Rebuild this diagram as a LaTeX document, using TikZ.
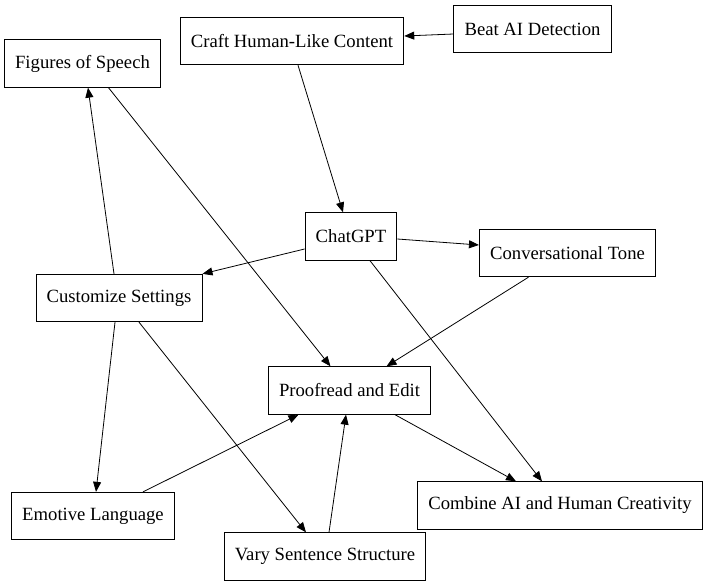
\documentclass[tikz,border=0pt]{standalone}
\usepackage{fontspec}
\setmainfont{Liberation Serif}
\usetikzlibrary{arrows.meta,calc}

\begin{document}
\begin{tikzpicture}[
  x=0.75pt, y=-0.75pt,
  every node/.style={font=\fontsize{14}{16}\selectfont},
  gvbox/.style={draw=black, line width=0.75pt, rectangle, inner xsep=8pt,
                minimum height=35.5pt, align=center},
  arr/.style={-{Triangle[length=7.5pt,width=6pt]}, line width=0.6pt}
]
\useasboundingbox (0,0) rectangle (708,587);

% nodes, placed at pixel centres
\node[gvbox] (beat)  at (532.5,29)  {Beat AI Detection};
\node[gvbox] (craft) at (292,41)    {Craft Human-Like Content};
\node[gvbox] (fig)   at (82.5,63.5) {Figures of Speech};
\node[gvbox] (chat)  at (351,236.5) {ChatGPT};
\node[gvbox] (conv)  at (567.5,253) {Conversational Tone};
\node[gvbox] (cust)  at (119,298)   {Customize Settings};
\node[gvbox] (proof) at (349.5,390.5) {Proofread and Edit};
\node[gvbox] (emot)  at (93,516)    {Emotive Language};
\node[gvbox] (comb)  at (560,505.5) {Combine AI and Human Creativity};
\node[gvbox] (vary)  at (325,556.5) {Vary Sentence Structure};

% edges
\draw[arr] ($(beat.west)+(0,5)$) -- ($(craft.east)+(0,-5)$);
\draw[arr] ($(craft.south)+(6,0)$) -- ($(chat.north)+(-8,0)$);
\draw[arr] ($(chat.east)+(0,2.5)$) -- ($(conv.west)+(0,-8)$);
\draw[arr] ($(chat.west)+(0,12.5)$) -- (cust.north east);
\draw[arr] ($(chat.south)+(19,0)$) -- ($(comb.north)+(-18,0)$);
\draw[arr] ($(conv.south)+(-39,0)$) -- ($(proof.north)+(37,0)$);
\draw[arr] ($(fig.south)+(26,0)$) -- ($(proof.north)+(-19,0)$);
\draw[arr] ($(cust.north)+(-5,0)$) -- ($(fig.south)+(5.5,0)$);
\draw[arr] ($(cust.south)+(-4,0)$) -- ($(emot.north)+(3,0)$);
\draw[arr] ($(cust.south)+(20,0)$) -- ($(vary.north)+(-19,0)$);
\draw[arr] ($(emot.north)+(50,0)$) -- ($(proof.south)+(-51,0)$);
\draw[arr] ($(vary.north)+(4,0)$) -- ($(proof.south)+(-3.5,0)$);
\draw[arr] ($(proof.south)+(45.5,0)$) -- ($(comb.north)+(-44,0)$);
\end{tikzpicture}
\end{document}
